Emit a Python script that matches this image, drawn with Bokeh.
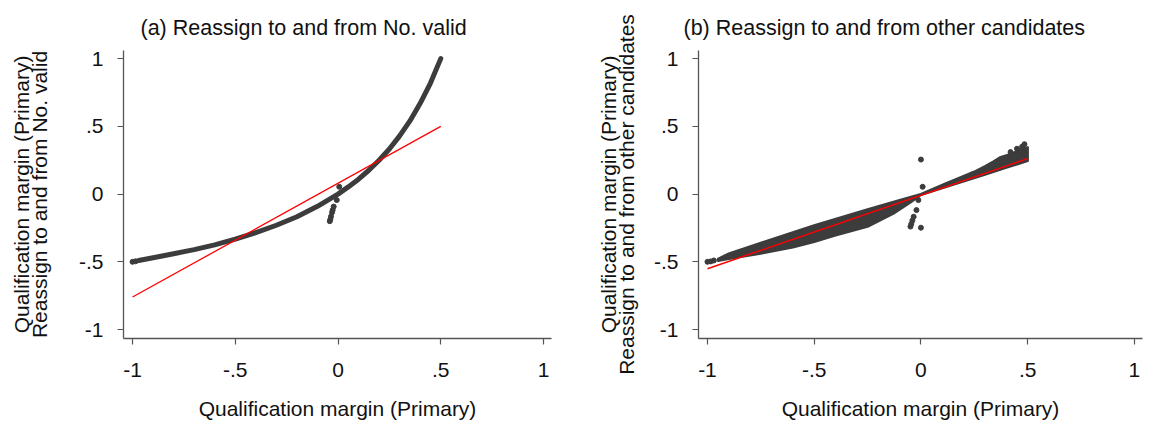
from bokeh.plotting import figure
from bokeh.layouts import row
from bokeh.models import Range1d, FixedTicker
from bokeh.embed import file_html
from bokeh.resources import INLINE

# ---------------- data ----------------
tick_vals = [-1.0, -0.5, 0.0, 0.5, 1.0]
tick_labels = ["-1", "-.5", "0", ".5", "1"]

# panel (a): main scatter curve
a_curve_x = [-0.97, -0.9, -0.8, -0.7, -0.6, -0.5, -0.4, -0.3, -0.2, -0.1, 0.0,
             0.05, 0.1, 0.15, 0.2, 0.25, 0.3, 0.35, 0.4, 0.45, 0.5]
a_curve_y = [-0.49, -0.47, -0.44, -0.41, -0.375, -0.333, -0.285, -0.23, -0.167, -0.09, 0.0,
             0.053, 0.11, 0.176, 0.25, 0.333, 0.43, 0.54, 0.67, 0.82, 1.0]
a_dots_x = [-1.0, -0.985, -0.04, -0.037, -0.034, -0.029, -0.026, -0.021, -0.006, 0.006]
a_dots_y = [-0.5, -0.496, -0.2, -0.185, -0.165, -0.135, -0.118, -0.092, -0.044, 0.054]
a_fit_x = [-1.0, 0.5]
a_fit_y = [-0.76, 0.5]

# panel (b): scatter band (upper and lower edges)
b_upper_x = [-0.95, -0.9, -0.75, -0.5, -0.25, -0.1, 0.0, 0.06, 0.12, 0.18, 0.25, 0.3,
             0.34, 0.37, 0.4, 0.43, 0.46, 0.48, 0.5]
b_upper_y = [-0.478, -0.44, -0.36, -0.232, -0.113, -0.045, 0.0, 0.04, 0.08, 0.12, 0.165, 0.205,
             0.24, 0.27, 0.285, 0.3, 0.325, 0.335, 0.345]
b_lower_x = [-0.95, -0.9, -0.75, -0.6, -0.5, -0.4, -0.25, -0.13, -0.05, 0.0, 0.1, 0.2,
             0.3, 0.4, 0.5]
b_lower_y = [-0.492, -0.478, -0.438, -0.393, -0.353, -0.305, -0.24, -0.145, -0.062, -0.005, 0.045, 0.095,
             0.145, 0.195, 0.245]
b_dots_x = [-1.0, -0.985, -0.97, 0.0, 0.008, -0.012, -0.021, -0.034, -0.04, -0.045, -0.049,
            0.0, 0.42, 0.45, 0.474, 0.485]
b_dots_y = [-0.5, -0.497, -0.49, 0.255, 0.054, -0.044, -0.118, -0.167, -0.195, -0.22, -0.24,
            -0.248, 0.31, 0.335, 0.35, 0.368]
b_fit_x = [-1.0, 0.5]
b_fit_y = [-0.551, 0.262]

titles = ["(a) Reassign to and from No. valid",
          "(b) Reassign to and from other candidates"]
ylabels = ["Qualification margin (Primary)\nReassign to and from No. valid",
           "Qualification margin (Primary)\nReassign to and from other candidates"]
xlabel = "Qualification margin (Primary)"

# ---------------- styling ----------------
FONT = "Liberation Sans"
DARK = "#3c3c3c"
AXIS = "#555555"


def make_fig(width, border_left, border_right, xr, title, title_offset, ylabel, ylab_standoff):
    p = figure(width=width, height=423, output_backend="svg", toolbar_location=None,
               x_range=Range1d(*xr), y_range=Range1d(-1.066, 1.06),
               min_border_left=border_left, min_border_right=border_right,
               min_border_top=50, min_border_bottom=85)
    p.title.text = title
    p.title.text_font = FONT
    p.title.text_font_size = "21.5px"
    p.title.text_font_style = "normal"
    p.title.text_color = "#111111"
    p.title.align = "left"
    p.title.vertical_align = "top"
    p.title.offset = title_offset
    p.title.standoff = 18
    p.outline_line_color = None
    p.xgrid.visible = False
    p.ygrid.visible = False
    for ax in (p.xaxis[0], p.yaxis[0]):
        ax.ticker = FixedTicker(ticks=tick_vals)
        ax.major_label_overrides = dict(zip(tick_vals, tick_labels))
        ax.major_label_text_font = FONT
        ax.major_label_text_font_size = "21px"
        ax.major_label_text_color = "#111111"
        ax.axis_label_text_font = FONT
        ax.axis_label_text_font_size = "21px"
        ax.axis_label_text_font_style = "normal"
        ax.axis_label_text_color = "#111111"
        ax.axis_line_color = AXIS
        ax.axis_line_width = 1.3
        ax.major_tick_line_color = AXIS
        ax.major_tick_line_width = 1.2
        ax.major_tick_out = 6
        ax.major_tick_in = 0
        ax.minor_tick_out = 0
        ax.minor_tick_in = 0
    p.xaxis.axis_label = xlabel
    p.xaxis.major_label_standoff = 18
    p.xaxis.axis_label_standoff = 17
    p.yaxis.axis_label = ylabel
    p.yaxis.major_label_standoff = 14
    p.yaxis.axis_label_standoff = ylab_standoff
    p.yaxis.axis_label_text_line_height = 0.8
    return p


# panel (a)
pa = make_fig(590, 123, 39, (-1.044, 1.039), titles[0], 17, ylabels[0], 25)
pa.line(a_curve_x, a_curve_y, line_color=DARK, line_width=5, line_cap="round", line_join="round")
pa.scatter(a_dots_x, a_dots_y, size=5, fill_color=DARK, line_color=DARK)
pa.line(a_fit_x, a_fit_y, line_color="#ff0000", line_width=1.3)

# panel (b)
pb = make_fig(565, 108, 13, (-1.042, 1.038), titles[1], -15, ylabels[1], 13)
band_x = b_upper_x + b_lower_x[::-1]
band_y = b_upper_y + b_lower_y[::-1]
pb.patch(band_x, band_y, fill_color=DARK, line_color=DARK, line_width=2.5, line_join="round")
pb.scatter(b_dots_x, b_dots_y, size=5, fill_color=DARK, line_color=DARK)
pb.line(b_fit_x, b_fit_y, line_color="#ff0000", line_width=1.5)

layout = row(pa, pb, spacing=0)
open("out.html", "w").write(file_html(layout, INLINE))
